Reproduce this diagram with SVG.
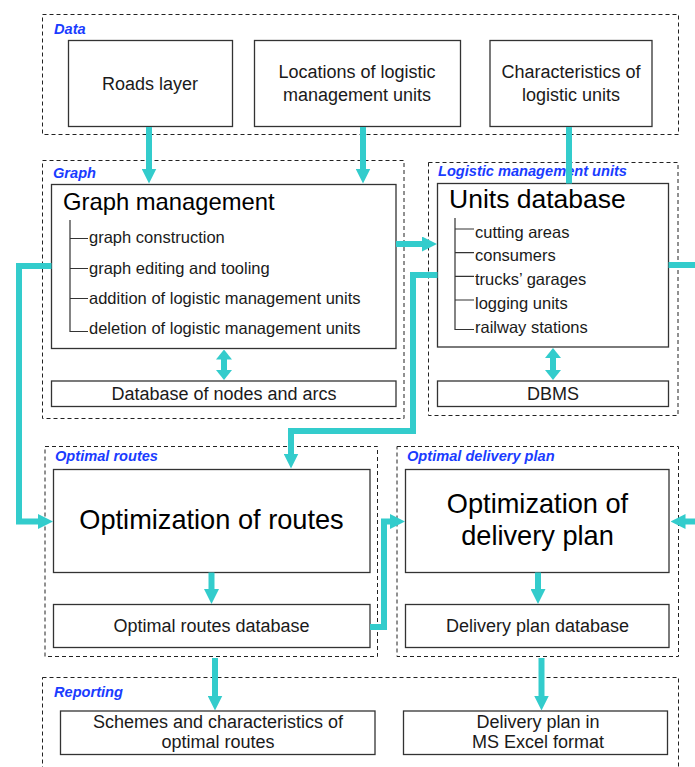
<svg xmlns="http://www.w3.org/2000/svg" width="695" height="767" viewBox="0 0 695 767">
<style>
.bg{fill:#ffffff}
.grp{fill:none;stroke:#222;stroke-width:1;stroke-dasharray:4 3}
.box{fill:#ffffff;stroke:#333;stroke-width:1.3}
.lbl{font-family:"Liberation Sans",Arial,sans-serif;font-size:14.6px;font-weight:bold;font-style:italic;fill:#1a3cff}
.t{font-family:"Liberation Sans",Arial,sans-serif;font-size:18px;fill:#1a1a1a;text-anchor:middle}
.ti{font-family:"Liberation Sans",Arial,sans-serif;font-size:16.5px;fill:#1a1a1a}
.tt{font-family:"Liberation Sans",Arial,sans-serif;fill:#000}
.tree{fill:none;stroke:#333;stroke-width:1.2}
.c{fill:none;stroke:#33CCCC;stroke-width:6;stroke-linejoin:miter}
</style>
<defs>
<marker id="ah" markerUnits="userSpaceOnUse" viewBox="0 0 15 15" markerWidth="15" markerHeight="15" refX="0.5" refY="7.5" orient="auto-start-reverse">
<path d="M0,0 L15,7.5 L0,15 z" fill="#33CCCC"/>
</marker>
<marker id="ah2" markerUnits="userSpaceOnUse" viewBox="0 0 10 16" markerWidth="10" markerHeight="16" refX="0.5" refY="8" orient="auto-start-reverse">
<path d="M0,0 L10,8 L0,16 z" fill="#33CCCC"/>
</marker>
</defs>
<rect class="bg" x="0" y="0" width="695" height="767"/>

<g id="data">
<rect class="grp" x="42.5" y="14.5" width="636" height="120"/>
<text class="lbl" x="54" y="34">Data</text>
</g>
<g id="roads">
<rect class="box" x="68.5" y="40.5" width="164" height="86"/>
<text class="t" x="150" y="90">Roads layer</text>
</g>
<g id="locations">
<rect class="box" x="254.5" y="40.5" width="206" height="86"/>
<text class="t" x="357" y="78">Locations of logistic</text>
<text class="t" x="357" y="100.5">management units</text>
</g>
<g id="characteristics">
<rect class="box" x="490" y="40.5" width="162" height="86"/>
<text class="t" x="571" y="78">Characteristics of</text>
<text class="t" x="571" y="100.5">logistic units</text>
</g>

<g id="graph">
<rect class="grp" x="42.5" y="160.5" width="361.5" height="258"/>
<text class="lbl" x="53" y="178">Graph</text>
</g>
<g id="graph-management">
<rect class="box" x="51.5" y="184.5" width="344.5" height="164"/>
<text class="tt" x="63" y="210" font-size="23.8">Graph management</text>
<path class="tree" d="M70,220 V331.5 H88 M70,238.5 H88 M70,268.5 H88 M70,298.5 H88"/>
<text class="ti" x="89" y="243">graph construction</text>
<text class="ti" x="89" y="273.5">graph editing and tooling</text>
<text class="ti" x="89" y="303.5">addition of logistic management units</text>
<text class="ti" x="89" y="333.5">deletion of logistic management units</text>
</g>
<g id="nodes-db">
<rect class="box" x="51.5" y="381" width="344.5" height="25.5"/>
<text class="t" x="224" y="400">Database of nodes and arcs</text>
</g>

<g id="lmu">
<rect class="grp" x="428.5" y="162.5" width="249.5" height="253"/>
<text class="lbl" x="438" y="175.5">Logistic management units</text>
</g>
<g id="units-db">
<rect class="box" x="437.5" y="183.5" width="231" height="163.5"/>
<text class="tt" x="449" y="208.3" font-size="26.5">Units database</text>
<path class="tree" d="M455,218 V329.5 H474 M455,229 H474 M455,252.7 H474 M455,276.3 H474 M455,300 H474"/>
<text class="ti" x="475" y="237.5">cutting areas</text>
<text class="ti" x="475" y="261">consumers</text>
<text class="ti" x="475" y="284.5">trucks’ garages</text>
<text class="ti" x="475" y="308.5">logging units</text>
<text class="ti" x="475" y="332.5">railway stations</text>
</g>
<g id="dbms">
<rect class="box" x="437.5" y="381" width="231" height="25.5"/>
<text class="t" x="553" y="400">DBMS</text>
</g>

<g id="optimal-routes">
<rect class="grp" x="45" y="446.5" width="332.5" height="210"/>
<text class="lbl" x="55" y="460.5">Optimal routes</text>
</g>
<g id="opt-routes">
<rect class="box" x="53.5" y="469.5" width="316.5" height="103"/>
<text class="tt" x="211.5" y="529.3" font-size="27.2" text-anchor="middle">Optimization of routes</text>
</g>
<g id="routes-db">
<rect class="box" x="53.5" y="604.5" width="316.5" height="43"/>
<text class="t" x="211.5" y="631.7">Optimal routes database</text>
</g>

<g id="optimal-delivery">
<rect class="grp" x="397" y="446.5" width="281.5" height="210"/>
<text class="lbl" x="407" y="460.5">Optimal delivery plan</text>
</g>
<g id="opt-delivery">
<rect class="box" x="405.5" y="469.5" width="263.5" height="103"/>
<text class="tt" x="537.5" y="513.3" font-size="27.2" text-anchor="middle">Optimization of</text>
<text class="tt" x="537.5" y="544.5" font-size="27.2" text-anchor="middle">delivery plan</text>
</g>
<g id="delivery-db">
<rect class="box" x="405.5" y="604.5" width="263.5" height="43"/>
<text class="t" x="537.5" y="631.7">Delivery plan database</text>
</g>

<g id="reporting">
<rect class="grp" x="42.5" y="677.5" width="636" height="100"/>
<text class="lbl" x="54" y="696.5">Reporting</text>
</g>
<g id="schemes">
<rect class="box" x="60.5" y="711" width="314.5" height="43.5"/>
<text class="t" x="218" y="728.3">Schemes and characteristics of</text>
<text class="t" x="218" y="748.3">optimal routes</text>
</g>
<g id="excel">
<rect class="box" x="403.5" y="711" width="264" height="43.5"/>
<text class="t" x="538" y="728.3">Delivery plan in</text>
<text class="t" x="538" y="748.3">MS Excel format</text>
</g>

<g id="connectors">
<path class="c" d="M149,127 V169" marker-end="url(#ah)"/>
<path class="c" d="M363,127 V169" marker-end="url(#ah)"/>
<path class="c" d="M569,127 V183.5"/>
<path class="c" d="M396,244 H422.5" marker-end="url(#ah)"/>
<path class="c" d="M437.5,275 H413 V431 H291 V454" marker-end="url(#ah)"/>
<path class="c" d="M51.5,266 H19 V521.5 H38.5" marker-end="url(#ah)"/>
<path class="c" d="M668.5,265 H700"/>
<path class="c" d="M700,521.5 H685" marker-end="url(#ah)"/>
<path class="c" d="M211.5,572.5 V589.5" marker-end="url(#ah)"/>
<path class="c" d="M370,627 H384 V521.5 H390.5" marker-end="url(#ah)"/>
<path class="c" d="M538,572.5 V589.5" marker-end="url(#ah)"/>
<path class="c" d="M224,359 V370.5" marker-start="url(#ah2)" marker-end="url(#ah2)"/>
<path class="c" d="M553,357.5 V370.5" marker-start="url(#ah2)" marker-end="url(#ah2)"/>
<path class="c" d="M215,658 V696" marker-end="url(#ah)"/>
<path class="c" d="M541.5,658 V696" marker-end="url(#ah)"/>
</g>
</svg>
